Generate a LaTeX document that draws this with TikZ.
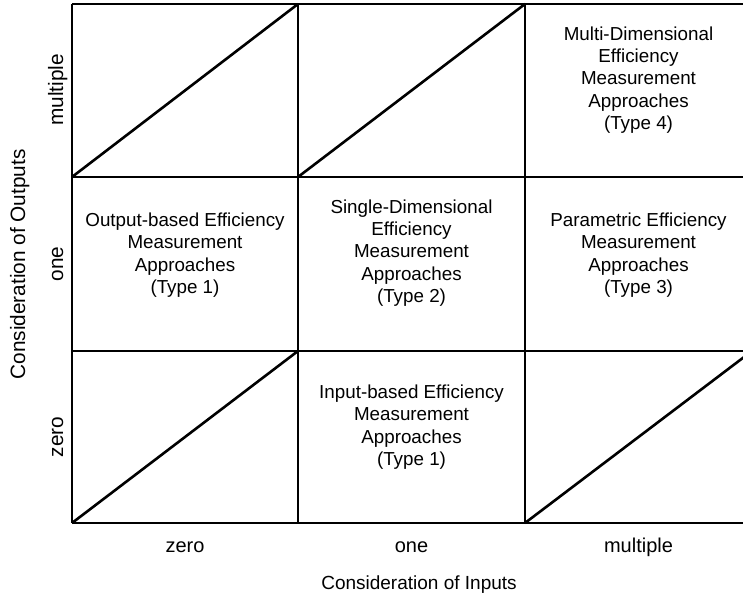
\documentclass[tikz,border=0pt]{standalone}
\usepackage{fontspec}
\setmainfont{Liberation Sans}
\begin{document}
\begin{tikzpicture}[x=1pt, y=-1pt,
  cell/.style={align=center, inner sep=0pt, font=\fontsize{18.8}{22.3}\selectfont},
  lbl/.style={anchor=base, inner sep=0pt, font=\fontsize{20}{24}\selectfont},
  sidelbl/.style={lbl, rotate=90, font=\fontsize{20.8}{24}\selectfont},
  gridline/.style={line width=1.2pt},
  diag/.style={line width=2.6pt}
]
\clip (0,0) rectangle (743,593);
\fill[white] (0,0) rectangle (743,593);
% grid
\foreach \gx in {72,298,525,752} \draw[gridline] (\gx,4) -- (\gx,523);
\foreach \gy in {4,177,351,523} \draw[gridline] (72,\gy) -- (752,\gy);
% empty cells
\draw[diag] (72,177)  -- (298,4);
\draw[diag] (298,177) -- (525,4);
\draw[diag] (72,523)  -- (298,351);
\draw[diag] (525,523) -- (752,351);
% cells
\node[cell] (type4)  at (638.5,80)  {Multi-Dimensional\\Efficiency\\Measurement\\Approaches\\(Type 4)};
\node[cell] (outtype1) at (185,255) {Output-based Efficiency\\Measurement\\Approaches\\(Type 1)};
\node[cell] (type2)  at (411.5,253) {Single-Dimensional\\Efficiency\\Measurement\\Approaches\\(Type 2)};
\node[cell] (type3)  at (638.5,255) {Parametric Efficiency\\Measurement\\Approaches\\(Type 3)};
\node[cell] (intype1) at (411.5,427) {Input-based Efficiency\\Measurement\\Approaches\\(Type 1)};
% axes
\node[lbl] (inzero)  at (185,552)   {zero};
\node[lbl] (inone)   at (411.5,552) {one};
\node[lbl] (inmulti) at (638.5,552) {multiple};
\node[lbl, font=\fontsize{19}{23}\selectfont] (inputs) at (419,589) {Consideration of Inputs};
\node[sidelbl] (outmulti) at (63,90)  {multiple};
\node[sidelbl] (outone)   at (63,264) {one};
\node[sidelbl] (outzero)  at (63,437) {zero};
\node[sidelbl] (outputs)  at (25,264.5) {Consideration of Outputs};
\end{tikzpicture}
\end{document}
